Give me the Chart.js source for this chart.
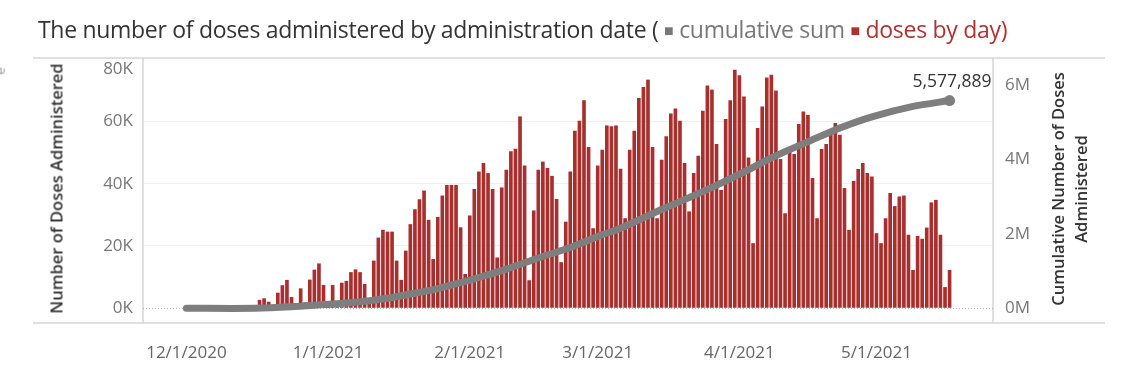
<!DOCTYPE html>
<html>
<head>
<meta charset="utf-8">
<script src="https://cdn.jsdelivr.net/npm/chart.js@4.4.1/dist/chart.umd.min.js"></script>
<style>
  body { margin: 0; background: #fff; font-family: "Open Sans", sans-serif; }
  #wrap { position: relative; width: 1140px; height: 374px; overflow: hidden; }
  #chart { position: absolute; left: 0; top: 0; }
  #title { position: absolute; left: 38px; top: 13px; font-size: 23px; color: #333; white-space: nowrap; letter-spacing: -0.3px; }
  #title .sq { font-size: 16px; position: relative; top: -2px; }
  #title .g { color: #777; }
  #title .r { color: #b0312e; }
  .axTitle { position: absolute; width: 320px; text-align: center; font-size: 16.5px; font-weight: 600; color: #333; transform: rotate(-90deg); line-height: 23px; }
  #leftTitle { left: -104px; top: 177px; }
  #rightTitle { left: 909px; top: 166px; }
  #stub { position: absolute; left: -4px; top: 62px; font-size: 13px; color: #999; transform: rotate(-90deg); }
</style>
</head>
<body>
<div id="wrap">
  <canvas id="chart" width="1140" height="374"></canvas>
  <div id="title">The number of doses administered by administration date ( <span class="g sq">■</span> <span class="g">cumulative sum</span> <span class="r sq">■</span> <span class="r">doses by day)</span></div>
  <div id="leftTitle" class="axTitle">Number of Doses Administered</div>
  <div id="rightTitle" class="axTitle">Cumulative Number of Doses<br>Administered</div>
  <div id="stub">e</div>
</div>
<script>
// x range: one category per day
const firstDay = new Date(2020, 10, 22);
const dayCount = 186;

// daily doses, one value per day starting 12/17/2020
const barStart = '12/17/2020';
const dailyDoses = [
  2700, 3200, 2100, 500, 5000, 7400, 9100,
  3600, 500, 6400, 1900, 9200, 12400, 14400,
  7500, 1000, 7500, 1000, 8200, 8800, 11600,
  12500, 11600, 7800, 2000, 15300, 22700, 25200,
  24600, 24600, 15300, 9100, 18500, 27000, 31800,
  35000, 37800, 28400, 15800, 29300, 36200, 39600,
  39600, 39600, 26000, 11000, 29800, 38300, 43900,
  46600, 43400, 38300, 16300, 38800, 44500, 50400,
  51200, 61600, 45800, 9000, 31400, 44500, 47100,
  45000, 42500, 35100, 14800, 27800, 43900, 57000,
  60200, 66800, 51800, 25700, 45800, 50900, 58700,
  58400, 58700, 44800, 28900, 50900, 57000, 67500,
  71000, 73400, 51800, 28900, 47700, 55200, 62500,
  64100, 60200, 46600, 31100, 43400, 49000, 63400,
  71500, 70200, 52700, 38000, 60800, 66800, 76600,
  74800, 68000, 48400, 20900, 57900, 64800, 74100,
  75000, 69900, 47900, 30500, 50400, 49500, 59200,
  63200, 62100, 41800, 28900, 51100, 52700, 56800,
  59500, 55700, 38600, 25200, 40900, 44700, 46600,
  43400, 42300, 24100, 20900, 28900, 37000, 32800,
  35900, 36200, 23600, 12300, 23200, 22300, 25900,
  34000, 34800, 23600, 6800, 12300
];

// cumulative sum
const cumDates = ['12/1/2020', '12/16/2020', '12/24/2020', '12/31/2020', '1/7/2021', '1/14/2021',
  '1/22/2021', '1/25/2021', '2/2/2021', '2/9/2021', '2/16/2021', '2/23/2021', '3/1/2021',
  '3/6/2021', '3/14/2021', '3/21/2021', '3/28/2021', '4/3/2021', '4/8/2021', '4/15/2021',
  '4/23/2021', '4/30/2021', '5/9/2021', '5/17/2021'];
const cumDoses = [0, 0, 40000, 100000, 160000, 270000,
  450000, 530000, 790000, 1050000, 1350000, 1630000, 1930000,
  2150000, 2600000, 2970000, 3360000, 3720000, 4040000, 4420000,
  4840000, 5140000, 5420000, 5577889];

const monthTicks = ['12/1/2020', '1/1/2021', '2/1/2021', '3/1/2021', '4/1/2021', '5/1/2021'];
const leftTicks = [0, 20000, 40000, 60000, 80000];
const rightTicks = [0, 2000000, 4000000, 6000000];

let labels = [];
for (let i = 0; i < dayCount; i++) {
    let d = new Date(firstDay.getFullYear(), firstDay.getMonth(), firstDay.getDate() + i);
    labels.push(`${d.getMonth() + 1}/${d.getDate()}/${d.getFullYear()}`);
}

let startIdx = labels.indexOf(barStart);
let barData = dailyDoses.map((v, k) => ({ x: labels[startIdx + k], y: v }));
let cumData = cumDates.map((d, k) => ({ x: d, y: cumDoses[k] }));

const tickFont = { family: 'Open Sans', size: 17 };

const framePlugin = {
    id: 'frame',
    beforeDatasetsDraw(chart) {
        const { ctx, chartArea } = chart;
        ctx.save();
        ctx.strokeStyle = '#d6d6d6';
        ctx.lineWidth = 1.5;
        ctx.beginPath();
        ctx.moveTo(33, chartArea.top); ctx.lineTo(1105, chartArea.top);
        ctx.moveTo(33, chartArea.bottom); ctx.lineTo(1105, chartArea.bottom);
        ctx.moveTo(chartArea.left, chartArea.top); ctx.lineTo(chartArea.left, chartArea.bottom);
        ctx.moveTo(chartArea.right, chartArea.top); ctx.lineTo(chartArea.right, chartArea.bottom);
        ctx.stroke();
        // dotted zero line
        let y0 = Math.round(chart.scales.y.getPixelForValue(0)) + 0.5;
        ctx.strokeStyle = '#b5b5b5';
        ctx.lineWidth = 1;
        ctx.setLineDash([1, 2]);
        ctx.beginPath();
        ctx.moveTo(chartArea.left, y0); ctx.lineTo(chartArea.right, y0);
        ctx.stroke();
        ctx.restore();
    },
    afterDatasetsDraw(chart) {
        const meta = chart.getDatasetMeta(0);
        const pt = meta.data[meta.data.length - 1];
        const ctx = chart.ctx;
        ctx.save();
        ctx.font = '17.5px "Open Sans"';
        ctx.fillStyle = '#333';
        ctx.textAlign = 'right';
        ctx.textBaseline = 'middle';
        ctx.fillText(cumDoses[cumDoses.length - 1].toLocaleString('en-US'), pt.x + 42, pt.y - 19);
        ctx.restore();
    }
};

let ctx = document.getElementById('chart').getContext('2d');
new Chart(ctx, {
    data: {
        labels: labels,
        datasets: [{
            type: 'line',
            label: 'cumulative sum',
            data: cumData,
            yAxisID: 'y2',
            borderColor: '#7e7e7e',
            borderWidth: 7,
            borderCapStyle: 'round',
            borderJoinStyle: 'round',
            tension: 0.25,
            pointRadius: c => c.dataIndex === cumData.length - 1 ? 5.5 : 0,
            pointBackgroundColor: '#7e7e7e',
            pointBorderWidth: 0,
            order: 0
        }, {
            type: 'bar',
            label: 'doses by day',
            data: barData,
            yAxisID: 'y',
            backgroundColor: '#a82f2d',
            borderWidth: 0,
            barPercentage: 0.8,
            categoryPercentage: 1,
            order: 1
        }]
    },
    options: {
        responsive: false,
        animation: false,
        layout: { padding: { top: 58, left: 0, right: 0, bottom: 0 } },
        plugins: { legend: { display: false }, tooltip: { enabled: false } },
        scales: {
            x: {
                type: 'category',
                offset: true,
                grid: { display: false },
                border: { display: false },
                ticks: {
                    autoSkip: false,
                    maxRotation: 0,
                    padding: 12,
                    color: '#666',
                    font: tickFont,
                    callback: function (v) {
                        let l = this.getLabelForValue(v);
                        return monthTicks.includes(l) ? l : null;
                    }
                },
                afterFit(s) { s.height = 51; }
            },
            y: {
                position: 'left',
                min: -4730,
                max: 80350,
                afterBuildTicks(s) { s.ticks = leftTicks.map(v => ({ value: v })); },
                ticks: {
                    // top label sits inside the frame, as in the original
                    callback: v => v === 80000 ? ['', (v / 1000) + 'K'] : (v / 1000) + 'K',
                    padding: 10, color: '#777', font: tickFont, lineHeight: 0.62
                },
                grid: {
                    drawTicks: false,
                    color: c => (c.tick && c.tick.value > 0 && c.tick.value < 80000) ? '#efefef' : 'rgba(0,0,0,0)'
                },
                border: { display: false },
                afterFit(s) { s.width = 143; }
            },
            y2: {
                position: 'right',
                min: -395000,
                max: 6720000,
                afterBuildTicks(s) { s.ticks = rightTicks.map(v => ({ value: v })); },
                ticks: { callback: v => (v / 1000000) + 'M', padding: 12, color: '#777', font: tickFont },
                grid: { display: false, drawTicks: false },
                border: { display: false },
                afterFit(s) { s.width = 147; }
            }
        }
    },
    plugins: [framePlugin]
});
</script>
</body>
</html>
